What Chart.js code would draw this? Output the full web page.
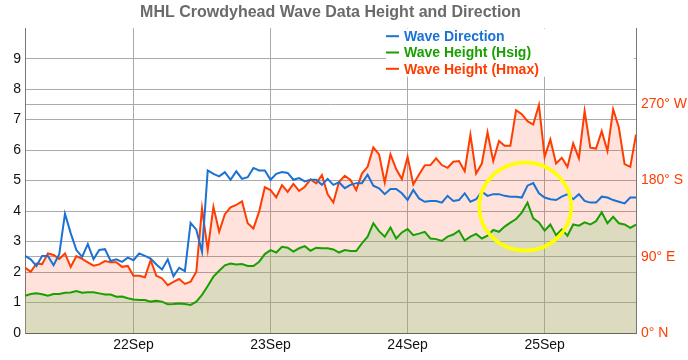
<!DOCTYPE html>
<html>
<head>
<meta charset="utf-8">
<script src="https://cdn.jsdelivr.net/npm/chart.js@4.4.0/dist/chart.umd.min.js"></script>
<style>
  html, body { margin: 0; padding: 0; background: #fff; }
</style>
</head>
<body>
<canvas id="waveChart" width="688" height="360"></canvas>
<script>
// hourly readings; hour 0 = 22Sep 00:00, first reading is 21Sep 05:00
const firstHour = -19;
const dayTicks = [0, 24, 48, 72];
const dayLabels = ['22Sep', '23Sep', '24Sep', '25Sep'];
const heightTicks = [0, 1, 2, 3, 4, 5, 6, 7, 8, 9];
const compassTicks = [0, 90, 180, 270];
const compassLabels = ['0° N', '90° E', '180° S', '270° W'];

// degrees
const waveDirection = [
  91, 87, 79, 91, 91, 80, 93, 141, 118, 98,
  90, 105, 87, 98, 99, 85, 87, 84, 89, 86,
  94, 91, 88, 81, 75, 87, 67, 77, 73, 130,
  122, 96, 192, 188, 185, 190, 181, 191, 182, 184,
  195, 192, 192, 181, 188, 190, 189, 181, 183, 179,
  181, 181, 175, 182, 175, 178, 171, 175, 177, 177,
  187, 174, 171, 164, 170, 170, 165, 157, 169, 159,
  155, 156, 156, 154, 162, 156, 157, 165, 155, 158,
  167, 162, 164, 164, 162, 161, 161, 160, 174, 177,
  165, 160, 158, 157, 161, 164, 158, 164, 156, 154,
  154, 161, 160, 157, 155, 153, 160, 160
];

// metres
const hsig = [
  1.22, 1.28, 1.30, 1.27, 1.22, 1.28, 1.28, 1.32, 1.33, 1.38,
  1.32, 1.34, 1.34, 1.30, 1.26, 1.26, 1.19, 1.20, 1.14, 1.10,
  1.08, 1.08, 1.03, 1.06, 1.03, 0.94, 0.95, 0.97, 0.95, 0.92,
  1.03, 1.25, 1.54, 1.85, 2.04, 2.22, 2.28, 2.25, 2.26, 2.20,
  2.20, 2.34, 2.59, 2.72, 2.64, 2.83, 2.80, 2.67, 2.78, 2.85,
  2.70, 2.80, 2.78, 2.78, 2.74, 2.64, 2.72, 2.69, 2.69, 2.94,
  3.16, 3.60, 3.34, 3.16, 3.46, 3.10, 3.30, 3.41, 3.21, 3.26,
  3.32, 3.10, 3.08, 3.02, 3.16, 3.23, 3.36, 3.03, 3.16, 3.25,
  3.10, 3.19, 3.38, 3.32, 3.49, 3.62, 3.74, 3.95, 4.28, 3.76,
  3.63, 3.36, 3.56, 3.21, 3.40, 3.19, 3.56, 3.52, 3.63, 3.56,
  3.67, 3.96, 3.60, 3.81, 3.60, 3.56, 3.45, 3.56
];

const hmax = [
  2.15, 2.01, 2.28, 2.26, 2.61, 2.56, 2.43, 2.61, 2.17, 2.52,
  2.43, 2.32, 2.21, 2.25, 2.36, 2.32, 2.32, 2.17, 2.20, 1.88,
  1.88, 1.83, 2.39, 1.88, 1.79, 1.57, 1.68, 1.77, 1.61, 1.68,
  2.01, 4.09, 2.72, 4.14, 3.32, 3.90, 4.12, 4.20, 4.32, 3.60,
  3.43, 3.98, 4.78, 4.69, 4.45, 4.85, 4.63, 4.89, 4.66, 4.80,
  5.04, 4.91, 5.18, 4.55, 4.28, 4.96, 5.16, 5.02, 4.69, 5.23,
  5.45, 6.09, 5.86, 4.94, 5.86, 5.38, 5.05, 5.78, 4.87, 5.20,
  5.50, 5.51, 5.73, 5.51, 5.42, 5.62, 5.64, 5.31, 6.51, 5.23,
  5.56, 6.58, 5.64, 6.30, 6.14, 6.14, 7.31, 7.18, 6.95, 6.84,
  7.48, 5.78, 6.35, 5.56, 5.75, 5.45, 6.22, 5.73, 7.28, 6.08,
  6.05, 6.62, 5.97, 7.34, 6.74, 5.54, 5.45, 6.51
];

const blue = '#1a72d2';
const green = '#19a000';
const red = '#ff3d00';
const gridColor = '#aaaaaa';
const axisColor = '#777777';

const toPoints = (vals) => vals.map((v, i) => ({ x: firstHour + i, y: v }));

// legend sits inside the plot, top right, on a white box
const insideLegend = {
  id: 'insideLegend',
  afterDatasetsDraw(chart) {
    const { ctx, chartArea } = chart;
    const left = chartArea.right - 250;
    ctx.save();
    ctx.fillStyle = '#ffffff';
    ctx.fillRect(left, chartArea.top + 0.5, 248, 48);
    ctx.font = 'bold 14px "Liberation Sans", Arial, sans-serif';
    ctx.textBaseline = 'middle';
    ctx.lineWidth = 2;
    chart.data.datasets.forEach((ds, i) => {
      const y = chartArea.top + 8 + i * 16.3;
      ctx.strokeStyle = ds.borderColor;
      ctx.beginPath();
      ctx.moveTo(left, y);
      ctx.lineTo(left + 13, y);
      ctx.stroke();
      ctx.fillStyle = ds.borderColor;
      ctx.fillText(ds.label, left + 18, y + 1);
    });
    ctx.restore();
  }
};

// yellow ring drawn round the Hsig peak
const highlight = { hour: 68.6, height: 4.15 };
const ringMarker = {
  id: 'ringMarker',
  afterDatasetsDraw(chart) {
    const { ctx, scales } = chart;
    const cx = scales.x.getPixelForValue(highlight.hour);
    const cy = scales.y.getPixelForValue(highlight.height);
    ctx.save();
    ctx.strokeStyle = '#ffff00';
    ctx.lineWidth = 3.5;
    ctx.beginPath();
    ctx.ellipse(cx, cy, 46, 44, 0, 0, Math.PI * 2);
    ctx.stroke();
    ctx.restore();
  }
};

Chart.defaults.font.family = '"Liberation Sans", Arial, sans-serif';

new Chart(document.getElementById('waveChart').getContext('2d'), {
  type: 'line',
  data: {
    datasets: [
      {
        label: 'Wave Direction',
        data: toPoints(waveDirection),
        yAxisID: 'y2',
        borderColor: blue,
        borderWidth: 2,
        pointRadius: 0,
        fill: false
      },
      {
        label: 'Wave Height (Hsig)',
        data: toPoints(hsig),
        yAxisID: 'y',
        borderColor: green,
        backgroundColor: 'rgba(138, 203, 127, 0.3)',
        borderWidth: 2,
        pointRadius: 0,
        fill: 'origin'
      },
      {
        label: 'Wave Height (Hmax)',
        data: toPoints(hmax),
        yAxisID: 'y',
        borderColor: red,
        backgroundColor: 'rgba(255, 62, 22, 0.15)',
        borderWidth: 2,
        pointRadius: 0,
        fill: 'origin'
      }
    ]
  },
  options: {
    responsive: false,
    devicePixelRatio: 1,
    animation: false,
    layout: { padding: 0 },
    plugins: {
      legend: { display: false },
      tooltip: { enabled: false },
      title: {
        display: true,
        text: 'MHL Crowdyhead Wave Data Height and Direction',
        color: '#6a6a6a',
        fullSize: false,
        font: { size: 16, weight: 'bold' },
        padding: { top: 3, bottom: 6 }
      }
    },
    scales: {
      x: {
        type: 'linear',
        min: firstHour,
        max: firstHour + hmax.length - 1,
        afterBuildTicks: (scale) => { scale.ticks = dayTicks.map(v => ({ value: v })); },
        afterFit: (scale) => { scale.height = 27; },
        grid: { color: gridColor, drawTicks: false },
        border: { color: '#666655' },
        ticks: {
          color: '#111',
          font: { size: 14 },
          padding: 4,
          maxRotation: 0,
          autoSkip: false,
          callback: (v) => dayLabels[dayTicks.indexOf(v)] ?? ''
        }
      },
      y: {
        position: 'left',
        min: 0,
        max: 10,
        afterBuildTicks: (scale) => { scale.ticks = heightTicks.map(v => ({ value: v })); },
        afterFit: (scale) => { scale.width = 25; },
        grid: { color: gridColor, drawTicks: false },
        border: { color: axisColor },
        ticks: { color: '#111', font: { size: 14 }, padding: 4 }
      },
      y2: {
        position: 'right',
        min: 0,
        max: 360,
        afterBuildTicks: (scale) => { scale.ticks = compassTicks.map(v => ({ value: v })); },
        afterFit: (scale) => { scale.width = 52; },
        grid: { color: gridColor, drawTicks: false },
        border: { color: axisColor },
        ticks: {
          color: red,
          font: { size: 14 },
          padding: 5,
          callback: (v) => compassLabels[compassTicks.indexOf(v)] ?? ''
        }
      }
    }
  },
  plugins: [insideLegend, ringMarker]
});
</script>
</body>
</html>
